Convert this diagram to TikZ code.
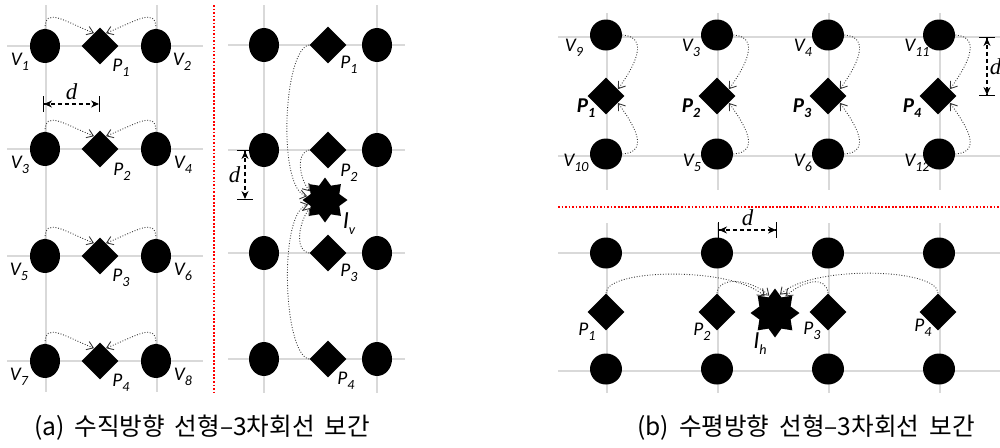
\documentclass[tikz,border=0pt]{standalone}
\usepackage{fontspec}
\setmainfont{Carlito}
\newfontfamily\krfont[WordSpace=1.8]{Noto Sans CJK KR}
\newfontfamily\dfont{Liberation Serif}
\usetikzlibrary{shapes.geometric,arrows.meta}
\newcommand{\sub}[1]{\raisebox{-0.5ex}{\footnotesize #1}}

\begin{document}
\begin{tikzpicture}[
		x=0.02cm, y=-0.02cm,
		every node/.style={font=\fontsize{11}{12}\selectfont\itshape},
		vtx/.style={ellipse, fill=black, inner sep=0pt, minimum width=0.6cm, minimum height=0.68cm},
		vtxb/.style={vtx, minimum width=0.64cm, minimum height=0.62cm},
		smp/.style={diamond, fill=black, inner sep=0pt, minimum size=0.74cm},
		intp/.style={star, star points=8, star point ratio=1.45, fill=black, inner sep=0pt, minimum size=0.9cm},
		conn/.style={-{Straight Barb[length=3.5pt,width=5pt]}, densely dotted, line width=0.5pt, black!80},
		dim/.style={{Bar[width=9pt]Stealth[length=4.5pt,width=4pt]}-{Stealth[length=4.5pt,width=4pt]Bar[width=9pt]},
			dash pattern=on 2.5pt off 1.5pt, line width=0.6pt},
		gline/.style={black!15, line width=0.6pt},
		sepline/.style={red, densely dotted, line width=1pt},
		dlab/.style={font=\dfont\itshape\fontsize{13}{14}\selectfont},
		biglab/.style={font=\fontsize{14}{15}\selectfont\itshape},
		boldlab/.style={font=\fontsize{12}{13}\selectfont\bfseries\itshape},
		captext/.style={font=\krfont\fontsize{14}{16}\selectfont},
		]
		
		\path[use as bounding box] (0,0) rectangle (1000,447);
		
		% grid lines
		\draw[gline] (46,5) -- (46,392) (157,5) -- (157,392);
		\draw[gline] (7,46) -- (203,46) (7,149) -- (203,149) (7,256) -- (203,256) (7,361) -- (203,361);
		\draw[gline] (264,5) -- (264,393) (377,5) -- (377,393);
		\draw[gline] (228,45) -- (405,45) (228,150) -- (405,150) (228,253) -- (405,253) (228,359) -- (405,359);
		\draw[gline] (607,13) -- (607,190) (718,13) -- (718,190) (829,13) -- (829,190) (940,13) -- (940,190);
		\draw[gline] (558,37) -- (1000,37) (558,156) -- (1000,156);
		\draw[gline] (607,223) -- (607,393) (718,223) -- (718,393) (829,223) -- (829,393) (940,223) -- (940,393);
		\draw[gline] (558,253) -- (1000,253) (558,371) -- (1000,371);
		
		% separators
		\draw[sepline] (214,5) -- (214,392);
		\draw[sepline] (558,207) -- (1000,207);
		
		% (a) vertical, left
		\node[vtx] (v1) at (45,46)  {};
		\node[smp] (p1) at (100,46) {};
		\node[vtx] (v2) at (156,46) {};
		\node[vtx] (v3) at (45,149)  {};
		\node[smp] (p2) at (100,149) {};
		\node[vtx] (v4) at (156,149) {};
		\node[vtx] (v5) at (45,256)  {};
		\node[smp] (p3) at (100,256) {};
		\node[vtx] (v6) at (156,256) {};
		\node[vtx] (v7) at (45,361)  {};
		\node[smp] (p4) at (100,361) {};
		\node[vtx] (v8) at (156,361) {};
		
		\node (lv1) at (20,62)  {V\sub{1}};
		\node (lp1) at (121,68) {P\sub{1}};
		\node (lv2) at (182,62) {V\sub{2}};
		\node (lv3) at (20,165)  {V\sub{3}};
		\node (lp2) at (122,172) {P\sub{2}};
		\node (lv4) at (183,165) {V\sub{4}};
		\node (lv5) at (19,272)  {V\sub{5}};
		\node (lp3) at (121,278) {P\sub{3}};
		\node (lv6) at (183,272) {V\sub{6}};
		\node (lv7) at (19,377)  {V\sub{7}};
		\node (lp4) at (121,383) {P\sub{4}};
		\node (lv8) at (183,377) {V\sub{8}};
		
		\draw[conn] (v1.north) .. controls +(0,-22) and +(-30,-12) .. (p1.115);
		\draw[conn] (v2.north) .. controls +(0,-22) and +(30,-12) .. (p1.65);
		\draw[conn] (v3.north) .. controls +(0,-22) and +(-30,-12) .. (p2.115);
		\draw[conn] (v4.north) .. controls +(0,-22) and +(30,-12) .. (p2.65);
		\draw[conn] (v5.north) .. controls +(0,-22) and +(-30,-12) .. (p3.115);
		\draw[conn] (v6.north) .. controls +(0,-22) and +(30,-12) .. (p3.65);
		\draw[conn] (v7.north) .. controls +(0,-22) and +(-30,-12) .. (p4.115);
		\draw[conn] (v8.north) .. controls +(0,-22) and +(30,-12) .. (p4.65);
		
		\coordinate (da1) at (43,104);
		\coordinate (da2) at (100,104);
		\draw[dim] (da1) -- node[dlab, above=-1pt] (lda) {d} (da2);
		
		% (a) vertical, right
		\node[vtx] (c1) at (264,45)  {};
		\node[smp] (q1) at (328,45)  {};
		\node[vtx] (c2) at (377,45)  {};
		\node[vtx] (c3) at (264,150) {};
		\node[smp] (q2) at (328,150) {};
		\node[vtx] (c4) at (377,150) {};
		\node[vtx] (c5) at (264,253) {};
		\node[smp] (q3) at (328,253) {};
		\node[vtx] (c6) at (377,253) {};
		\node[vtx] (c7) at (264,359) {};
		\node[smp] (q4) at (328,359) {};
		\node[vtx] (c8) at (377,359) {};
		\node[intp] (iv) at (325,200) {};
		
		\node (lq1) at (349,65)  {P\sub{1}};
		\node (lq2) at (349,173) {P\sub{2}};
		\node (lq3) at (349,273) {P\sub{3}};
		\node (lq4) at (346,381) {P\sub{4}};
		\node[biglab] (liv) at (349,224) {I\sub{v}};
		
		\draw[conn] (q1.west) .. controls +(-26,4) and +(-30,-7) .. (iv.168);
		\draw[conn] (q2.west) .. controls +(-14,3) and +(-10,-12) .. (iv.150);
		\draw[conn] (q3.west) .. controls +(-16,-3) and +(-10,12) .. (iv.208);
		\draw[conn] (q4.west) .. controls +(-26,-4) and +(-30,8) .. (iv.195);
		
		\coordinate (dv1) at (245,150);
		\coordinate (dv2) at (245,200);
		\draw[dim] (dv1) -- node[dlab, left=-1pt] (ldv) {d} (dv2);
		
		% (b) horizontal, top
		\node[vtxb] (w9)  at (606,35) {};
		\node[vtxb] (w3)  at (717,35) {};
		\node[vtxb] (w4)  at (828,35) {};
		\node[vtxb] (w11) at (939,35) {};
		\node[smp]  (r1)  at (606,96) {};
		\node[smp]  (r2)  at (717,96) {};
		\node[smp]  (r3)  at (828,96) {};
		\node[smp]  (r4)  at (938,96) {};
		\node[vtxb] (w10) at (606,154) {};
		\node[vtxb] (w5)  at (717,154) {};
		\node[vtxb] (w6)  at (828,154) {};
		\node[vtxb] (w12) at (939,154) {};
		
		\node (lw9)  at (574,48) {V\sub{9}};
		\node (lw3)  at (691,48) {V\sub{3}};
		\node (lw4)  at (803,48) {V\sub{4}};
		\node (lw11) at (917,48) {V\sub{11}};
		\node[boldlab] (lr1) at (586,108) {P\sub{1}};
		\node[boldlab] (lr2) at (691,108) {P\sub{2}};
		\node[boldlab] (lr3) at (802,108) {P\sub{3}};
		\node[boldlab] (lr4) at (912,108) {P\sub{4}};
		\node (lw10) at (576,163) {V\sub{10}};
		\node (lw5)  at (692,163) {V\sub{5}};
		\node (lw6)  at (803,163) {V\sub{6}};
		\node (lw12) at (917,163) {V\sub{12}};
		
		\draw[conn] (w9.east)  .. controls +(28,2) and +(16,-22) .. (r1.30);
		\draw[conn] (w10.east) .. controls +(28,-2) and +(16,22) .. (r1.-30);
		\draw[conn] (w3.east)  .. controls +(28,2) and +(16,-22) .. (r2.30);
		\draw[conn] (w5.east)  .. controls +(28,-2) and +(16,22) .. (r2.-30);
		\draw[conn] (w4.east)  .. controls +(28,2) and +(16,-22) .. (r3.30);
		\draw[conn] (w6.east)  .. controls +(28,-2) and +(16,22) .. (r3.-30);
		\draw[conn] (w11.east) .. controls +(28,2) and +(16,-22) .. (r4.30);
		\draw[conn] (w12.east) .. controls +(28,-2) and +(16,22) .. (r4.-30);
		
		\coordinate (db1) at (987,37);
		\coordinate (db2) at (987,96);
		\draw[dim] (db1) -- node[dlab, right=-2pt] (ldb) {d} (db2);
		
		% (b) horizontal, bottom
		\node[vtxb] (u1) at (606,253) {};
		\node[vtxb] (u2) at (717,253) {};
		\node[vtxb] (u3) at (828,253) {};
		\node[vtxb] (u4) at (939,253) {};
		\node[smp]  (s1) at (606,312) {};
		\node[smp]  (s2) at (717,312) {};
		\node[smp]  (s3) at (828,312) {};
		\node[smp]  (s4) at (938,312) {};
		\node[vtxb] (u5) at (606,369) {};
		\node[vtxb] (u6) at (717,369) {};
		\node[vtxb] (u7) at (828,369) {};
		\node[vtxb] (u8) at (939,369) {};
		\node[intp, minimum size=0.98cm] (ih) at (775,313) {};
		
		\node (ls1) at (587,332) {P\sub{1}};
		\node (ls2) at (702,332) {P\sub{2}};
		\node (ls3) at (812,331) {P\sub{3}};
		\node (ls4) at (923,328) {P\sub{4}};
		\node[biglab] (lih) at (760,344) {I\sub{h}};
		
		\draw[conn] (s1.north) .. controls +(0,-25) and +(-32,-30) .. (ih.122);
		\draw[conn] (s2.north) .. controls +(2,-18) and +(-18,-16) .. (ih.108);
		\draw[conn] (s3.north) .. controls +(-2,-18) and +(18,-16) .. (ih.58);
		\draw[conn] (s4.north) .. controls +(0,-25) and +(32,-30) .. (ih.75);
		
		\coordinate (dh1) at (718,230);
		\coordinate (dh2) at (777,230);
		\draw[dim] (dh1) -- node[dlab, above=-1pt] (ldh) {d} (dh2);
		
		% captions
		\node[captext] (capa) at (202,428) {(a) 수직방향 선형–3차회선 보간};
		\node[captext] (capb) at (806,428) {(b) 수평방향 선형–3차회선 보간};
		
	\end{tikzpicture}
\end{document}
